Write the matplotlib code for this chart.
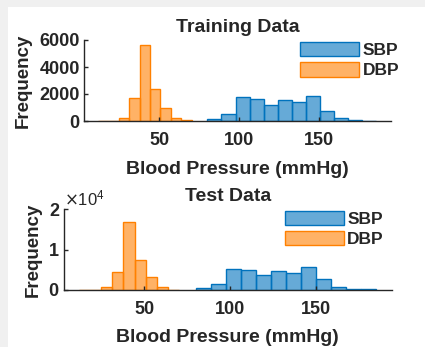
import numpy as np
import matplotlib
matplotlib.use("Agg")
import matplotlib.pyplot as plt
from matplotlib.patches import Rectangle
from matplotlib.ticker import ScalarFormatter

plt.rcParams['font.family'] = ['Liberation Sans', 'DejaVu Sans']

# histogram bin edges (mmHg)
sbp_edges = [80.0, 88.8, 97.6, 106.4, 115.2, 124.0, 132.8, 141.6, 150.4, 159.2, 168.0, 176.8, 185.6]
dbp_edges = [11.7, 18.2, 24.7, 31.2, 37.7, 44.2, 50.7, 57.2, 63.7, 70.2]

# counts per bin
train_sbp = [125, 520, 1750, 1650, 1170, 1550, 1430, 1870, 750, 200, 60, 30]
train_dbp = [20, 30, 240, 1670, 5630, 2350, 980, 200, 50]
test_sbp = [400, 1490, 5200, 4900, 3720, 4710, 4130, 5580, 2640, 660, 300, 280]
test_dbp = [0, 50, 660, 4460, 16940, 7440, 3300, 740, 100]

blue = (0.0, 0.447, 0.741)
orange = (1.0, 0.5, 0.0)
text_col = '#262626'


def draw_hist(ax, edges, counts, color, label):
    edges = np.asarray(edges)
    ax.bar(edges[:-1], counts, width=np.diff(edges), align='edge',
           facecolor=color + (0.6,), edgecolor=color, linewidth=1.0, label=label)


def style_axes(ax, title, ylim, yticks):
    ax.set_xlim(3, 194.5)
    ax.set_ylim(*ylim)
    ax.set_yticks(yticks)
    ax.set_xticks([50, 100, 150])
    ax.patch.set_alpha(0)
    for s in ['top', 'right']:
        ax.spines[s].set_visible(False)
    for s in ['left', 'bottom']:
        ax.spines[s].set_color(text_col)
        ax.spines[s].set_linewidth(1.0)
    ax.tick_params(direction='in', length=3, width=1, colors=text_col,
                   labelsize=13)
    ax.tick_params(axis='x', pad=8)
    ax.tick_params(axis='y', pad=3)
    for lbl in ax.get_xticklabels() + ax.get_yticklabels():
        lbl.set_fontweight('bold')
    ax.set_title(title, fontsize=14, fontweight='bold', color=text_col, pad=6)
    ax.set_xlabel('Blood Pressure (mmHg)', fontsize=14, fontweight='bold', color=text_col)
    ax.set_ylabel('Frequency', fontsize=13.5, fontweight='bold', color=text_col)


fig = plt.figure(figsize=(4.25, 3.47), dpi=100, facecolor='#f0f0f0')
# white canvas area, leaving a grey strip along the left and top edges
fig.add_artist(Rectangle((8 / 425, 0), 1, 340 / 347, transform=fig.transFigure,
                         facecolor='white', edgecolor='none', zorder=-10))

ax1 = fig.add_axes([84 / 425, 1 - 121 / 347, 306.7 / 425, 81 / 347])
ax2 = fig.add_axes([64 / 425, 1 - 290 / 347, 327.7 / 425, 80.7 / 347])

draw_hist(ax1, sbp_edges, train_sbp, blue, 'SBP')
draw_hist(ax1, dbp_edges, train_dbp, orange, 'DBP')
style_axes(ax1, 'Training Data', (0, 6000), [0, 2000, 4000, 6000])
ax1.yaxis.set_label_coords(-0.17, 0.5)
ax1.xaxis.set_label_coords(0.5, -0.5)

draw_hist(ax2, sbp_edges, test_sbp, blue, 'SBP')
draw_hist(ax2, dbp_edges, test_dbp, orange, 'DBP')
style_axes(ax2, 'Test Data', (0, 20000), [0, 10000, 20000])
fmt = ScalarFormatter(useMathText=True)
fmt.set_powerlimits((0, 0))
ax2.yaxis.set_major_formatter(fmt)
ax2.yaxis.get_offset_text().set_fontsize(12)
ax2.yaxis.get_offset_text().set_color(text_col)
ax2.yaxis.set_label_coords(-0.068, 0.5)
ax2.xaxis.set_label_coords(0.5, -0.48)

for ax, anchor in [(ax1, (0.704, 0.98)), (ax2, (0.674, 0.985))]:
    leg = ax.legend(loc='upper left', bbox_to_anchor=anchor, frameon=False,
                    handlelength=3.4, handleheight=0.9, handletextpad=0.2,
                    labelspacing=0.25, borderaxespad=0, borderpad=0,
                    prop={'size': 12.5, 'weight': 'bold'})
    for t in leg.get_texts():
        t.set_color(text_col)

fig.savefig('out.png', dpi=100, facecolor=fig.get_facecolor())
